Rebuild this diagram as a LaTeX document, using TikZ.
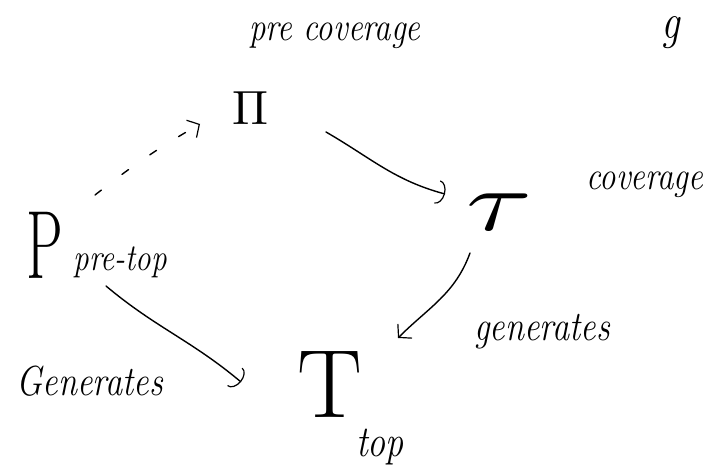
\documentclass[tikz,border=0pt]{standalone}
\usetikzlibrary{arrows.meta,calc}
\newcommand{\hw}[2]{\fontsize{#1}{#1}\selectfont\scalebox{0.82}[1]{\itshape #2}}
\begin{document}
\begin{tikzpicture}[x=1pt,y=1pt,
  lbl/.style={inner sep=0pt},
  sym/.style={inner sep=0pt},
  arr/.style={line width=1.4pt,line cap=round,-{Straight Barb[length=9pt,width=20pt,line width=1.2pt]}},
  hookarr/.style={line width=1.4pt,line cap=round,-{Arc Barb[length=8pt,width=24pt,line width=1.2pt]}},
]
\useasboundingbox (0,0) rectangle (716,472);
% labels
\node[lbl] (prec) at (335,436) {\hw{40}{pre coverage}};
\node[lbl] (cov) at (645,287) {\hw{40}{coverage}};
\node[lbl] (pretop) at (120,210) {\hw{38}{pre-top}};
\node[lbl] (gen1) at (542,140) {\hw{42}{generates}};
\node[lbl] (gen2) at (90,91) {\hw{42}{Generates}};
\node[lbl] (toplbl) at (380,25) {\hw{44}{top}};
\node[sym,anchor=north] (gcut) at (671,456) {\hw{50}{g}};
% symbols
\node[sym] (Pi) at (250,364) {\scalebox{4.8}{$\Pi$}};
\node[sym] (tau) at (500,260) {\scalebox{12}[8.5]{$\tau$}};
\node[sym,font=\fontsize{97}{97}\selectfont] (P) at (45,227) {\scalebox{0.6}[1]{P}};
\node[sym,font=\fontsize{97}{97}\selectfont] (T) at (330,87) {T};
% connectors
\draw[arr,dash pattern=on 8pt off 26pt] ($(P)+(50,50)$) to[bend left=4] ($(Pi)+(-50,-16)$);
\draw[hookarr] ($(Pi)+(76,-24)$) to[out=-30,in=165] ($(tau)+(-55,18)$);
\draw[hookarr] ($(P)+(61,-41)$) to[out=-40,in=140] ($(T)+(-89,3)$);
\draw[arr] ($(tau)+(-30,-41)$) to[out=-110,in=45] ($(T)+(68,47)$);
\end{tikzpicture}
\end{document}
